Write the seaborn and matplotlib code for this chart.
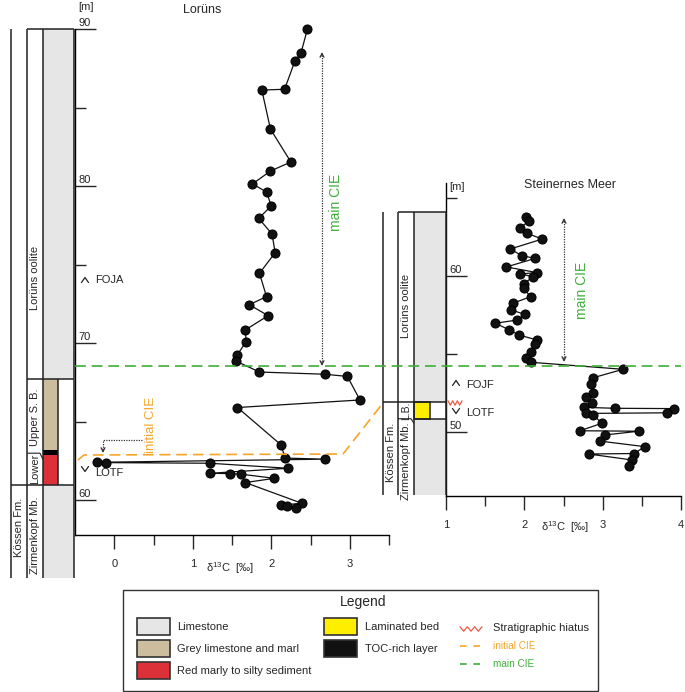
import matplotlib
matplotlib.use("Agg")
import matplotlib.pyplot as plt
from matplotlib.patches import Rectangle
import pandas as pd
import seaborn as sns

# --- data ---
# Lorüns section: d13C (permil) vs height (m)
lorunz_d13c = [2.46, 2.38, 2.30, 2.17, 1.88, 1.99, 2.25, 1.99, 1.76, 1.94,
               2.00, 1.84, 2.01, 2.05, 1.85, 1.94, 1.72, 1.96, 1.67, 1.68,
               1.57, 1.55, 1.85, 2.68, 2.97, 3.13, 1.57, 2.12, 2.18, 2.68,
               -0.22, -0.10, 1.22, 2.21, 1.22, 1.47, 1.62, 2.04, 1.67, 2.39,
               2.12, 2.20, 2.32]
lorunz_height = [90.0, 88.51, 87.96, 86.18, 86.13, 83.64, 81.55, 80.97, 80.15, 79.64,
                 78.75, 77.96, 76.96, 75.77, 74.46, 72.97, 72.46, 71.76, 70.85, 70.10,
                 69.28, 68.87, 68.17, 68.03, 67.89, 66.39, 65.91, 63.55, 62.69, 62.62,
                 62.42, 62.40, 62.36, 62.04, 61.72, 61.70, 61.66, 61.40, 61.13, 59.81,
                 59.69, 59.64, 59.49]

# Steinernes Meer section
sm_d13c = [2.02, 2.06, 1.95, 2.03, 2.23, 1.82, 1.97, 2.14, 1.77, 2.16,
           1.95, 2.11, 1.99, 1.99, 2.08, 1.85, 1.83, 2.01, 1.91, 1.63,
           1.81, 1.93, 2.16, 2.14, 2.09, 2.02, 2.08, 3.26, 2.88, 2.85,
           2.88, 2.79, 2.87, 2.76, 3.16, 3.91, 3.82, 2.79, 2.88, 2.99,
           2.71, 3.46, 3.03, 2.96, 3.54, 3.40, 2.82, 3.37, 3.34]
sm_height = [63.80, 63.53, 63.10, 62.74, 62.37, 61.73, 61.30, 61.13, 60.58, 60.22,
             60.13, 59.96, 59.47, 59.21, 58.67, 58.25, 57.82, 57.54, 57.18, 56.97,
             56.54, 56.22, 55.90, 55.62, 55.15, 54.72, 54.47, 54.02, 53.48, 53.06,
             52.48, 52.26, 51.84, 51.58, 51.52, 51.50, 51.23, 51.19, 51.09, 50.56,
             50.08, 50.05, 49.81, 49.42, 49.06, 48.62, 48.59, 48.21, 47.84]

# layer boundaries (m)
lor_top, lor_oolite_base, lor_tan_base, lor_toc_base, lor_kossen_top, lor_bottom = 90.0, 67.7, 63.2, 62.9, 61.0, 55.05
sm_top, sm_kossen_top, sm_lb_base, sm_bottom = 64.1, 51.9, 50.85, 45.96

sns.set_style("white")
plt.rcParams["font.family"] = ["Liberation Sans", "DejaVu Sans"]
plt.rcParams["mathtext.fontset"] = "custom"
plt.rcParams["mathtext.rm"] = "Liberation Sans"
plt.rcParams["mathtext.default"] = "regular"

GREY, TAN, RED, YELLOW = "#e6e6e6", "#cbbd9d", "#dc3139", "#ffee00"
GREEN, ORANGE = "#3fae3a", "#f6a52a"
W, H = 685, 692
fig = plt.figure(figsize=(W / 100, H / 100), dpi=100)


def px_axes(l, t, r, b):
    return fig.add_axes([l / W, 1 - b / H, (r - l) / W, (b - t) / H])


def style_axis(ax, xmaj, xmin, ymaj, ymin):
    sns.despine(ax=ax)
    for s in ["left", "bottom"]:
        ax.spines[s].set_color("black")
        ax.spines[s].set_linewidth(1.0)
    ax.set_xticks(xmaj)
    ax.set_xticks(xmin, minor=True)
    ax.set_yticks(ymaj)
    ax.set_yticks(ymin, minor=True)
    ax.tick_params(axis="y", which="major", direction="in", length=15, width=1, labelleft=False, left=True)
    ax.tick_params(axis="y", which="minor", direction="in", length=8, width=1, left=True)
    ax.tick_params(axis="x", which="major", direction="out", length=10, width=1, labelsize=8, pad=7, bottom=True)
    ax.tick_params(axis="x", which="minor", direction="out", length=7, width=1, bottom=True)
    ax.set_xlabel("")
    ax.set_ylabel("")
    ax.patch.set_alpha(0)


# --- Lorüns panel ---
ax1 = px_axes(75, 29.3, 389, 535)
df1 = pd.DataFrame({"d13c": lorunz_d13c, "height": lorunz_height})
sns.lineplot(data=df1, x="d13c", y="height", sort=False, estimator=None, color="#111111",
             lw=0.9, marker="o", markersize=6.5, markeredgecolor="black", clip_on=False, ax=ax1)
ax1.set_xlim(-0.5, 3.5)
ax1.set_ylim(90 - (535 - 29.3) / 15.7, 90)
style_axis(ax1, [0, 1, 2, 3], [0.5, 1.5, 2.5, 3.5], [60, 70, 80, 90], [65, 75, 85])
for m in [60, 70, 80, 90]:
    ax1.text(-0.46, m + 0.08, str(m), fontsize=8, ha="left", va="bottom")

# --- Steinernes Meer panel ---
ax2 = px_axes(446, 183, 681, 496)
df2 = pd.DataFrame({"d13c": sm_d13c, "height": sm_height})
sns.lineplot(data=df2, x="d13c", y="height", sort=False, estimator=None, color="#111111",
             lw=0.9, marker="o", markersize=6.5, markeredgecolor="black", clip_on=False, ax=ax2)
ax2.set_xlim(1, 4)
ax2.set_ylim(65 - (496 - 198) / 15.6, 65 + (198 - 183) / 15.6)
style_axis(ax2, [1, 2, 3, 4], [1.5, 2.5, 3.5], [50, 60], [55, 65])
for m in [50, 60]:
    ax2.text(1.04, m + 0.08, str(m), fontsize=8, ha="left", va="bottom")


# --- stratigraphic columns ---
def line(ax, xs, ys, lw=1.1, color="#222222"):
    ax.plot(xs, ys, color=color, lw=lw, clip_on=False, solid_capstyle="butt")


def box(ax, x, y0, w, y1, fc, ec="none", lw=1.0):
    ax.add_patch(Rectangle((x, y0), w, y1 - y0, fc=fc, ec=ec, lw=lw, clip_on=False))


c1 = px_axes(0, 29.3, 75, 535)
c1.set_xlim(0, 75)
c1.set_ylim(ax1.get_ylim())
c1.axis("off")
box(c1, 43, lor_oolite_base, 31, lor_top, GREY)
box(c1, 43, lor_bottom, 31, lor_kossen_top, GREY)
box(c1, 43, lor_tan_base, 15, lor_oolite_base, TAN)
box(c1, 43, lor_toc_base, 15, lor_tan_base, "black")
box(c1, 43, lor_kossen_top, 15, lor_toc_base, RED)
line(c1, [11, 11], [lor_bottom, lor_top])
line(c1, [27, 27], [lor_bottom, lor_top])
line(c1, [43, 43], [lor_bottom, lor_top])
line(c1, [74, 74], [lor_bottom, lor_top])
line(c1, [58, 58], [lor_kossen_top, lor_oolite_base])
line(c1, [27, 74], [lor_top, lor_top])
line(c1, [27, 74], [lor_oolite_base, lor_oolite_base])
line(c1, [11, 74], [lor_kossen_top, lor_kossen_top])
line(c1, [27, 40, 43], [63.0, 63.0, 62.6], lw=0.8)
for x, y, s in [(35, 74.15, "Lorüns oolite"), (35, 65.3, "Upper S. B."), (35, 62.0, "Lower"),
                (19, 58.3, "Kössen Fm."), (35, 57.8, "Zirmenkopf Mb.")]:
    c1.text(x, y, s, rotation=90, fontsize=8, ha="center", va="center")

c2 = px_axes(370, 183, 446, 496)
c2.set_xlim(370, 446)
c2.set_ylim(ax2.get_ylim())
c2.axis("off")
box(c2, 414, sm_kossen_top, 32, sm_top, GREY)
box(c2, 414, sm_bottom, 32, sm_lb_base, GREY)
box(c2, 414, sm_lb_base, 16, sm_kossen_top, YELLOW, ec="#222222", lw=1.1)
line(c2, [383, 383], [sm_bottom, sm_top])
line(c2, [398, 398], [sm_bottom, sm_top])
line(c2, [414, 414], [sm_bottom, sm_top])
line(c2, [446, 446], [sm_bottom, sm_top])
line(c2, [398, 446], [sm_top, sm_top])
line(c2, [383, 446], [sm_kossen_top, sm_kossen_top])
line(c2, [414, 446], [sm_lb_base, sm_lb_base])
line(c2, [398, 411, 414], [sm_lb_base, sm_lb_base, 50.55], lw=0.8)
for x, y, s, fs in [(406, 58.1, "Lorüns oolite", 8), (406, 51.38, "L.B.", 7.5),
                    (391, 48.7, "Kössen Fm.", 8), (406, 48.1, "Zirmenkopf Mb.", 8)]:
    c2.text(x, y, s, rotation=90, fontsize=fs, ha="center", va="center")

# --- overlay in pixel coordinates for annotations ---
ov = fig.add_axes([0, 0, 1, 1])
ov.set_xlim(0, W)
ov.set_ylim(H, 0)
ov.axis("off")


def chevron(x, y, up=True):
    d = -2.5 if up else 2.5
    ov.plot([x - 3.5, x, x + 3.5], [y - d, y + d, y - d], color="#222222", lw=0.9)


def zigzag(x0, x1, y, n=6, amp=2.2):
    xs = [x0 + (x1 - x0) * i / n for i in range(n + 1)]
    ys = [y + (amp if i % 2 else -amp) for i in range(n + 1)]
    ov.plot(xs, ys, color="#ee5a45", lw=0.9)


# correlation lines
g, = ov.plot([75, 681], [366, 366], color=GREEN, lw=1.2)
g.set_dashes((6.5, 3.5))
o, = ov.plot([78, 84, 343, 383], [460, 455, 454, 403], color=ORANGE, lw=1.2)
o.set_dashes((6.5, 3.5))

# CIE arrows
arrow_kw = dict(arrowstyle="->", color="#333333", lw=0.9, mutation_scale=7, shrinkA=0, shrinkB=0)
ov.plot([322, 322], [55, 362], color="#333333", lw=0.9, ls=(0, (1, 1)))
ov.annotate("", xy=(322, 52), xytext=(322, 56), arrowprops=arrow_kw)
ov.annotate("", xy=(322, 366), xytext=(322, 362), arrowprops=arrow_kw)
ov.plot([564, 564], [221, 358], color="#333333", lw=0.9, ls=(0, (1, 1)))
ov.annotate("", xy=(564, 218), xytext=(564, 222), arrowprops=arrow_kw)
ov.annotate("", xy=(564, 362), xytext=(564, 358), arrowprops=arrow_kw)
ov.plot([142, 103, 103], [440, 440, 449], color="#333333", lw=0.9, ls=(0, (1, 1)))
ov.annotate("", xy=(103, 453), xytext=(103, 449), arrowprops=arrow_kw)

ov.text(336, 202, "main CIE", rotation=90, color=GREEN, fontsize=10, ha="center", va="center")
ov.text(582, 290, "main CIE", rotation=90, color=GREEN, fontsize=10, ha="center", va="center")
ov.text(151, 425, "initial CIE", rotation=90, color=ORANGE, fontsize=9.5, ha="center", va="center")

# biostratigraphic markers
chevron(85, 280, up=True)
ov.text(95, 280, "FOJA", fontsize=8, va="center")
chevron(85, 469, up=False)
ov.text(95, 473, "LOTF", fontsize=8, va="center")
chevron(456, 383, up=True)
ov.text(466, 385, "FOJF", fontsize=8, va="center")
chevron(456, 411, up=False)
ov.text(466, 413, "LOTF", fontsize=8, va="center")
zigzag(448, 462, 403)

# titles and axis labels
ov.text(202, 10, "Lorüns", fontsize=9, ha="center", va="center")
ov.text(570, 185, "Steinernes Meer", fontsize=9, ha="center", va="center")
ov.text(78, 7, "[m]", fontsize=8, ha="left", va="center")
ov.text(449, 187, "[m]", fontsize=8, ha="left", va="center")
ov.text(230, 568, r"δ$^{13}$C  [‰]", fontsize=8, ha="center", va="center")
ov.text(565, 527, r"δ$^{13}$C  [‰]", fontsize=8, ha="center", va="center")

# legend box
ov.add_patch(Rectangle((123, 590), 475, 101, fc="none", ec="#333333", lw=1.0))
ov.text(363, 602, "Legend", fontsize=10, ha="center", va="center")
for y, fc, s in [(618, GREY, "Limestone"), (640, TAN, "Grey limestone and marl"),
                 (662, RED, "Red marly to silty sediment")]:
    ov.add_patch(Rectangle((137, y), 33, 17, fc=fc, ec="#333333", lw=1.2))
    ov.text(177, y + 9, s, fontsize=8, va="center")
for y, fc, s in [(618, YELLOW, "Laminated bed"), (640, "#111111", "TOC-rich layer")]:
    ov.add_patch(Rectangle((324, y), 33, 17, fc=fc, ec="#333333", lw=1.2))
    ov.text(365, y + 9, s, fontsize=8, va="center")
zigzag(460, 482, 629)
ov.text(493, 628, "Stratigraphic hiatus", fontsize=8, va="center")
lo, = ov.plot([460, 481], [646, 646], color=ORANGE, lw=1.2)
lo.set_dashes((4, 4))
ov.text(493, 646, "initial CIE", fontsize=7.2, color=ORANGE, va="center")
lg, = ov.plot([460, 481], [664, 664], color=GREEN, lw=1.2)
lg.set_dashes((4, 4))
ov.text(493, 664, "main CIE", fontsize=7.2, color=GREEN, va="center")

fig.savefig("out.png", dpi=100)
